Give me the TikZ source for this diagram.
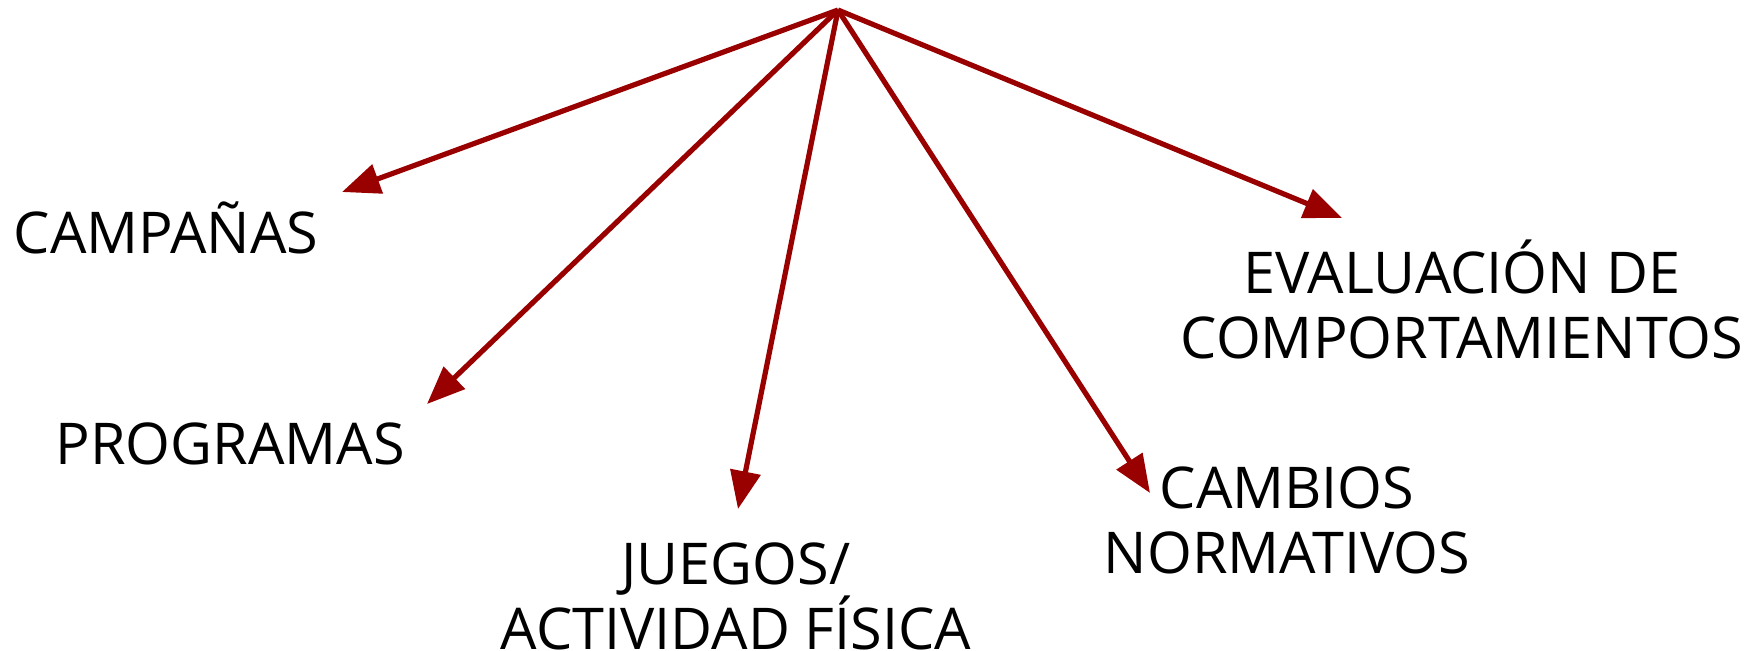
\documentclass[tikz,border=0pt]{standalone}
\usepackage{fontspec}
\setmainfont{Open Sans}
\usetikzlibrary{arrows.meta}
\definecolor{arrowred}{HTML}{990000}
\begin{document}
\begin{tikzpicture}[x=0.5pt,y=-0.5pt,
  lbl/.style={inner sep=0pt, align=center, font=\fontsize{28.8}{32.5}\selectfont, text=black},
  conn/.style={draw=arrowred, line width=2.6pt, -{Triangle[length=19pt,width=15pt]}}]
\useasboundingbox (0,0) rectangle (1754,650);
\coordinate (apex) at (838,10);
\coordinate (tcamp) at (342,192);
\coordinate (tprog) at (427,404);
\coordinate (tjueg) at (738,509);
\coordinate (tcamb) at (1150,493);
\coordinate (teval) at (1342,218);
\node[lbl, anchor=base] (camp) at (166,253) {CAMPAÑAS};
\node[lbl, anchor=base] (prog) at (230,464) {PROGRAMAS};
\node[lbl, anchor=base] (jueg) at (736,649) {JUEGOS/\\ACTIVIDAD FÍSICA};
\node[lbl, anchor=base] (camb) at (1287,573) {CAMBIOS\\NORMATIVOS};
\node[lbl, anchor=base] (eval) at (1462,358) {EVALUACIÓN DE\\COMPORTAMIENTOS};
\draw[conn] (apex) -- (tcamp);
\draw[conn] (apex) -- (tprog);
\draw[conn] (apex) -- (tjueg);
\draw[conn] (apex) -- (tcamb);
\draw[conn] (apex) -- (teval);
\end{tikzpicture}
\end{document}
